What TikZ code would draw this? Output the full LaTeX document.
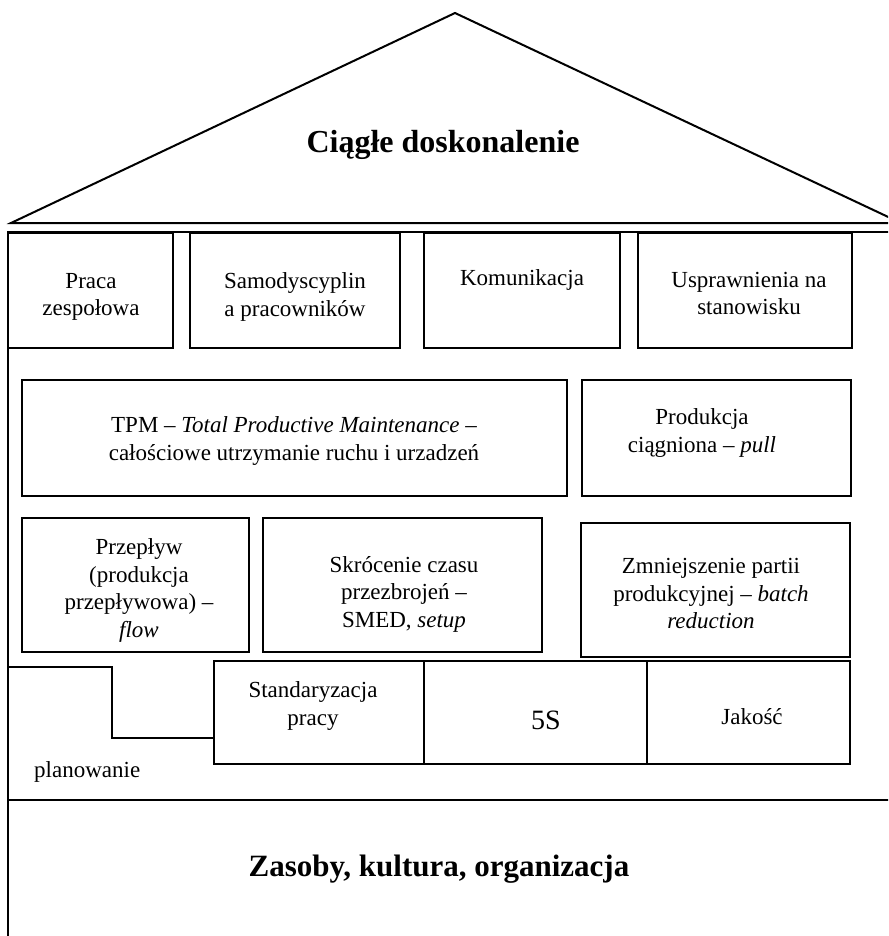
\documentclass[tikz,border=0pt]{standalone}
\usepackage{fontspec}
\setmainfont{Liberation Serif}
\begin{document}
\begin{tikzpicture}[x=1pt,y=-1pt,
  box/.style={draw=black, line width=1.5pt, rectangle, inner sep=0pt, outer sep=0pt},
  txt/.style={align=center, inner sep=0pt, font=\fontsize{23}{27.5}\selectfont},
  title/.style={inner sep=0pt, font=\fontsize{32}{36}\selectfont\bfseries},
  wall/.style={line width=2pt}]
\useasboundingbox (0,0) rectangle (888,936);
\clip (0,0) rectangle (888,936);
% roof
\draw[wall, line join=miter] (11,223) -- (455,13) -- (901,223) -- cycle;
\node[title, anchor=base] (roof) at (443,153) {Ciągłe doskonalenie};
% walls and floors
\draw[wall] (8,232) -- (900,232);
\draw[wall] (8,231) -- (8,940);
\draw[line width=2.4pt] (8,800) -- (900,800);
% row 1
\node[box, minimum width=165pt, minimum height=115pt] (praca) at (90.5,290.5) {};
\node[box, minimum width=210pt, minimum height=115pt] (samo) at (295,290.5) {};
\node[box, minimum width=196pt, minimum height=115pt] (komu) at (522,290.5) {};
\node[box, minimum width=214pt, minimum height=115pt] (uspr) at (745,290.5) {};
\node[txt] (praca-t) at (91,297) {Praca\\zespołowa};
\node[txt] (samo-t) at (295,297) {Samodyscyplin\\a pracowników};
\node[txt, anchor=base] (komu-t) at (522,285) {Komunikacja};
\node[txt] (uspr-t) at (749,293.5) {Usprawnienia na\\stanowisku};
% row 2
\node[box, minimum width=545pt, minimum height=116pt] (tpm) at (294.5,438) {};
\node[box, minimum width=269pt, minimum height=116pt] (prod) at (716.5,438) {};
\node[txt] (tpm-t) at (294,441) {TPM – \textit{Total Productive Maintenance} –\\całościowe utrzymanie ruchu i urzadzeń};
\node[txt] (prod-t) at (702,433) {Produkcja\\ciągniona – \textit{pull}};
% row 3
\node[box, minimum width=227pt, minimum height=134pt] (przep) at (135.5,585) {};
\node[box, minimum width=279pt, minimum height=134pt] (skroc) at (402.5,585) {};
\node[box, minimum width=269pt, minimum height=134pt] (zmn) at (715.5,590) {};
\node[txt] (przep-t) at (139,590.5) {Przepływ\\(produkcja\\przepływowa) –\\\textit{flow}};
\node[txt] (skroc-t) at (404,594) {Skrócenie czasu\\przezbrojeń –\\SMED, \textit{setup}};
\node[txt] (zmn-t) at (711,594) {Zmniejszenie partii\\produkcyjnej – \textit{batch}\\\textit{reduction}};
% row 4
\node[box, minimum width=210pt, minimum height=103pt] (stand) at (319,712.5) {};
\node[box, minimum width=223pt, minimum height=103pt] (fives) at (535.5,712.5) {};
\node[box, minimum width=203pt, minimum height=103pt] (jak) at (748.5,712.5) {};
\node[txt] (stand-t) at (313,706) {Standaryzacja\\pracy};
\node[txt, anchor=base, font=\fontsize{28}{32}\selectfont] (fives-t) at (546,729) {5S};
\node[txt, anchor=base] (jak-t) at (752,724) {Jakość};
% planning step
\coordinate (stepA) at (8,667);
\coordinate (stepB) at (214,738);
\draw[line width=1.5pt] (stepA) -| (112,738) -- (stepB);
\node[txt, anchor=base west] (plan) at (34,777) {planowanie};
% foundation
\node[title, anchor=base, font=\fontsize{31}{36}\selectfont\bfseries] (found) at (439,876) {Zasoby, kultura, organizacja};
\end{tikzpicture}
\end{document}
